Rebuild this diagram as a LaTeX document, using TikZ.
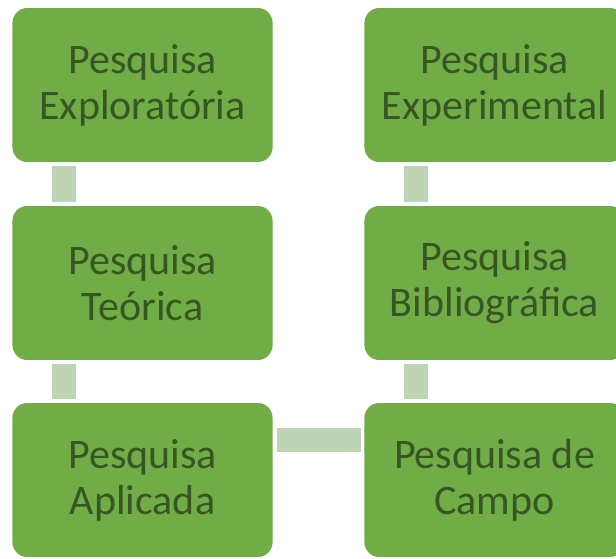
\documentclass[tikz,border=0pt]{standalone}
\usepackage{fontspec}
\setmainfont{Carlito}
\usepackage{xcolor}
\usepackage{tikz}

\definecolor{boxgreen}{RGB}{112,173,71}
\definecolor{textgreen}{RGB}{55,86,35}
\definecolor{linkgreen}{RGB}{189,213,180}

\tikzset{
	tipo/.style={draw=white, line width=0.8pt, fill=boxgreen, rounded corners=15pt,
		minimum width=261pt, minimum height=155pt, inner sep=0pt, align=center,
		text=textgreen, font=\fontsize{42}{46}\selectfont},
	link/.style={linkgreen, line width=24pt}
}

\begin{document}
\begin{tikzpicture}[x=1pt, y=-1pt]
			\useasboundingbox (0,0) rectangle (616,558);
			% coluna da esquerda
			\node[tipo] at (142.5, 85) (expl) {Pesquisa\\Exploratória};
			\node[tipo] at (142.5, 283) (teor) {Pesquisa\\Teórica};
			\node[tipo] at (142.5, 480) (apli) {Pesquisa\\Aplicada};
			% coluna da direita
			\node[tipo] at (494.5, 480) (camp) {Pesquisa de\\Campo};
			\node[tipo] at (494.5, 283) (bibl) {Pesquisa\\Bibliográfica};
			\node[tipo] at (494.5, 85) (expe) {Pesquisa\\Experimental};
			% ligacoes
			\draw[link] ([xshift=52pt, yshift=-3pt]expl.south west) -- ([xshift=52pt, yshift=3pt]teor.north west);
			\draw[link] ([xshift=52pt, yshift=-3pt]teor.south west) -- ([xshift=52pt, yshift=3pt]apli.north west);
			\draw[link] ([xshift=4pt, yshift=-38pt]apli.north east) -- ([xshift=-3pt, yshift=-38pt]camp.north west);
			\draw[link] ([xshift=52pt, yshift=3pt]camp.north west) -- ([xshift=52pt, yshift=-3pt]bibl.south west);
			\draw[link] ([xshift=52pt, yshift=3pt]bibl.north west) -- ([xshift=52pt, yshift=-3pt]expe.south west);
		\end{tikzpicture}
\end{document}
